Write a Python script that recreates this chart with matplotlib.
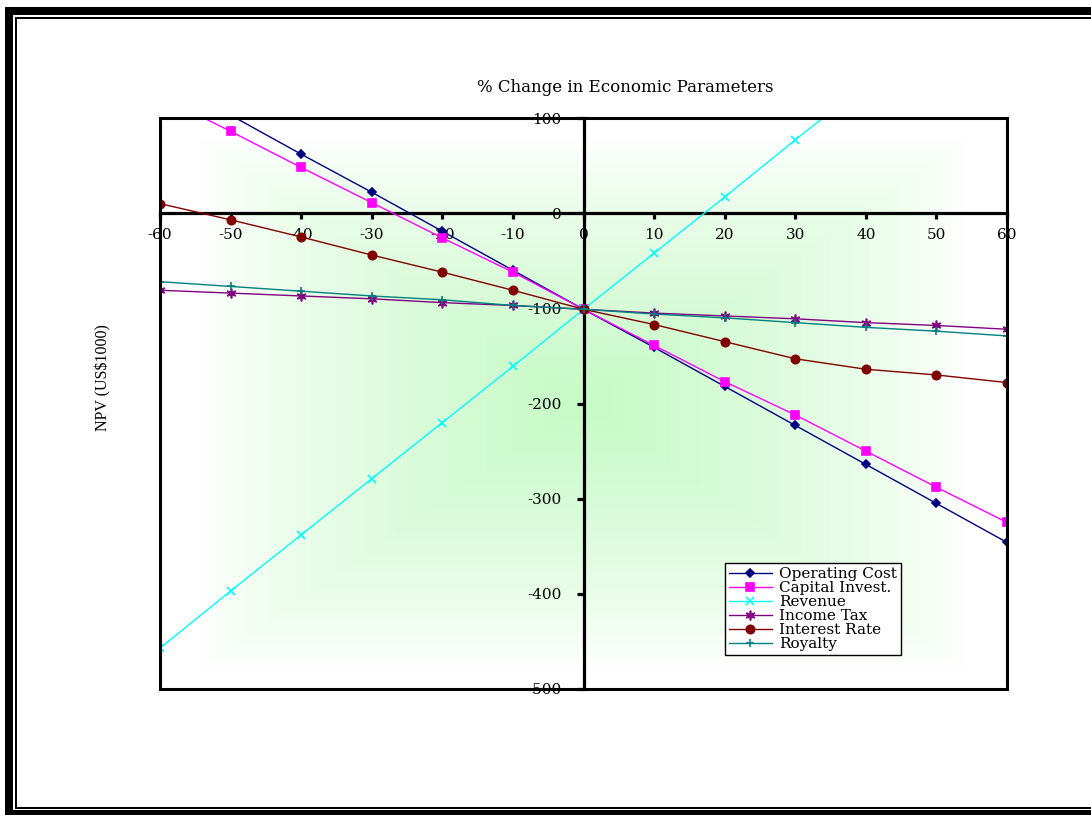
import numpy as np
import matplotlib.pyplot as plt
from matplotlib.patches import Rectangle

# % change in each economic parameter
pct_change = [-60, -50, -40, -30, -20, -10, 0, 10, 20, 30, 40, 50, 60]

# NPV (US$1000) for each parameter
operating_cost = [143, 103, 62, 22, -19, -60, -101, -141, -182, -223, -264, -305, -346]
capital_invest = [123, 86, 48, 11, -26, -62, -101, -139, -177, -212, -250, -288, -325]
revenue = [-457, -397, -338, -279, -220, -161, -101, -42, 17, 77, 136, 195, 255]
income_tax = [-81, -84, -87, -90, -94, -97, -101, -105, -108, -111, -115, -118, -122]
interest_rate = [10, -7, -25, -44, -62, -81, -101, -117, -135, -153, -164, -170, -178]
royalty = [-72, -77, -82, -87, -91, -97, -101, -106, -110, -115, -120, -124, -129]

x_ticks = [-60, -50, -40, -30, -20, -10, 0, 10, 20, 30, 40, 50, 60]
y_ticks = [100, 0, -100, -200, -300, -400, -500]

W, H = 1091, 815
fig = plt.figure(figsize=(W / 100, H / 100), dpi=100)
fig.patch.set_facecolor('white')


def px_rect(x0, y0, x1, y1, **kw):
    # rectangle given in pixel coords measured from the top-left corner
    fig.add_artist(Rectangle((x0 / W, 1 - y1 / H), (x1 - x0) / W, (y1 - y0) / H,
                             transform=fig.transFigure, color='black', lw=0, **kw))


# double page border
px_rect(5, 7, W, 15)
px_rect(5, 7, 13, 815)
px_rect(5, 810, W, 815)
px_rect(15, 17, W, 19)
px_rect(15, 17, 16.5, 808.5)
px_rect(15, 806.5, W, 808.5)

ax = fig.add_axes([160 / W, 1 - 689 / H, (1007 - 160) / W, (689 - 118) / H])
ax.set_xlim(-60, 60)
ax.set_ylim(-500, 100)

# light green rectangular gradient behind the plot
u, v = np.meshgrid(np.linspace(0, 1, 400), np.linspace(0, 1, 400))
t = np.clip(np.maximum(np.abs(u - 0.5) / 0.45, np.abs(v - 0.5) / 0.46), 0, 1)
k = (1 - t) ** 0.75
green = np.array([198, 250, 198]) / 255.0
img = k[..., None] * green + (1 - k)[..., None] * np.ones(3)
ax.imshow(img, extent=(0, 1, 0, 1), transform=ax.transAxes, aspect='auto', zorder=0)

series = [
    ('Operating Cost', operating_cost, '#000080', 'D', 4.5),
    ('Capital Invest.', capital_invest, '#FF00FF', 's', 6),
    ('Revenue', revenue, '#00FFFF', 'x', 6),
    ('Income Tax', income_tax, '#800080', (6, 2, 0), 7),
    ('Interest Rate', interest_rate, '#800000', 'o', 6),
    ('Royalty', royalty, '#008080', '+', 6),
]
for name, vals, col, mk, ms in series:
    ax.plot(pct_change, vals, color=col, lw=1.0, marker=mk, ms=ms,
            mew=1.2, label=name, zorder=3)

# axes cross at the origin
for side in ['top', 'right']:
    ax.spines[side].set_visible(False)
ax.spines['left'].set_position(('data', 0))
ax.spines['bottom'].set_position(('data', 0))
ax.spines['left'].set_linewidth(2.3)
ax.spines['bottom'].set_linewidth(2.3)
ax.add_patch(Rectangle((0, 0), 1, 1, transform=ax.transAxes, fill=False,
                       lw=2.2, ec='black', clip_on=False, zorder=4))

serif = 'DejaVu Serif'
ax.set_xticks(x_ticks)
ax.set_yticks(y_ticks)
ax.set_xticklabels([str(v) for v in x_ticks], family=serif, fontsize=11)
ax.set_yticklabels([str(v) for v in y_ticks], family=serif, fontsize=11)
ax.tick_params(axis='x', direction='out', length=4, width=2.3, pad=7)
ax.tick_params(axis='y', direction='out', length=5, width=2.3, pad=11)

fig.text(625 / W, 1 - 88 / H, '% Change in Economic Parameters',
         family=serif, fontsize=12, ha='center', va='center')
fig.text(103 / W, 1 - 378 / H, r'NPV (US\$1000)', family='Liberation Serif',
         fontsize=11.5, rotation=90, ha='center', va='center')

leg = ax.legend(loc='lower left', bbox_to_anchor=(0.667, 0.0595), borderaxespad=0,
                prop={'family': serif, 'size': 11}, labelspacing=0.0,
                handlelength=2.8, handletextpad=0.5, borderpad=0.25,
                fancybox=False, framealpha=1, edgecolor='black')
leg.get_frame().set_linewidth(1.0)
leg.set_zorder(5)

fig.savefig('out.png', dpi=100)
